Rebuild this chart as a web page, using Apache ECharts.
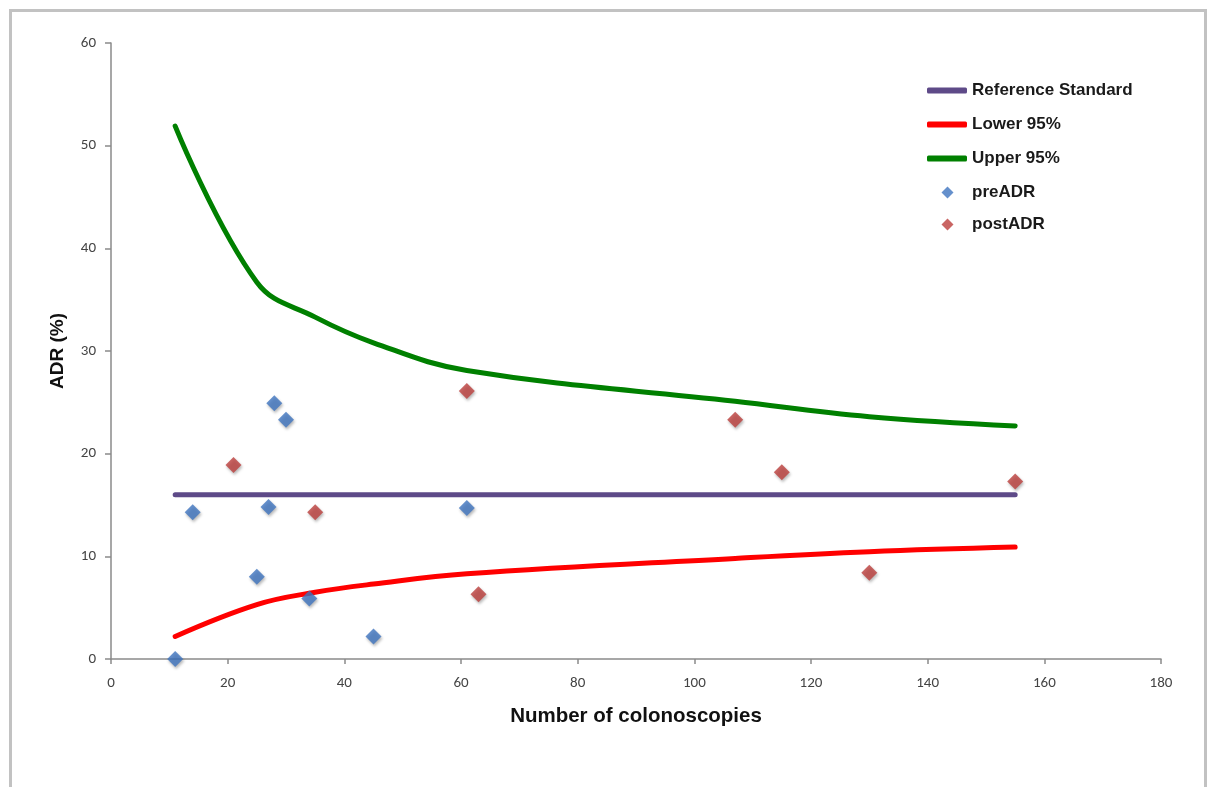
<!DOCTYPE html>
<html>
<head>
<meta charset="utf-8">
<script src="https://cdn.jsdelivr.net/npm/echarts@6/dist/echarts.min.js"></script>
<style>
html,body{margin:0;padding:0;background:#fff;}
#chart{width:1211px;height:787px;}
</style>
</head>
<body>
<div id="chart"></div>
<script>
// ---- data ----
var refX = [11, 155];
var refY = [16, 16];
var ciX = [11, 25, 35, 45, 61, 107, 130, 155];
var lowerY = [2.2, 5.3, 6.5, 7.3, 8.3, 9.8, 10.45, 10.9];
var upperY = [51.9, 36.7, 33.3, 30.8, 28.1, 25.1, 23.6, 22.7];
var preX = [11, 14, 25, 27, 28, 30, 34, 45, 61];
var preY = [0, 14.3, 8.0, 14.8, 24.9, 23.3, 5.9, 2.2, 14.7];
var postX = [21, 35, 61, 63, 107, 115, 130, 155];
var postY = [18.9, 14.3, 26.1, 6.3, 23.3, 18.2, 8.4, 17.3];
var xTicks = [0, 20, 40, 60, 80, 100, 120, 140, 160, 180];
var yTicks = [0, 10, 20, 30, 40, 50, 60];

function pairs(xs, ys) { return xs.map(function (x, i) { return [x, ys[i]]; }); }

var chart = echarts.init(document.getElementById('chart'), null, {renderer: 'canvas'});
var tickFont = {color: '#444', fontSize: 15, fontFamily: 'Carlito, "Liberation Sans", Arial, sans-serif'};
var legendFont = {color: '#1a1a1a', fontSize: 17, fontWeight: 'bold', fontFamily: '"Liberation Sans", Arial, sans-serif'};
var axisLine = {show: true, lineStyle: {color: '#8a8a8a', width: 1.5}};
var diamondShadow = {shadowBlur: 3, shadowOffsetX: 1, shadowOffsetY: 2, shadowColor: 'rgba(0,0,0,0.35)'};
var legendDiamond = 'path://M0,0 M39,12 M19.5,0 L25.5,6 L19.5,12 L13.5,6 Z';

chart.setOption({
  animation: false,
  backgroundColor: '#ffffff',
  graphic: [{
    type: 'rect', left: 8, top: 8, silent: true,
    shape: {width: 1195, height: 900},
    style: {fill: 'none', stroke: '#c2c2c2', lineWidth: 3}
  }],
  grid: {left: 111, right: 50, top: 43, bottom: 128, containLabel: false},
  legend: [{
    data: ['Reference Standard', 'Lower 95%', 'Upper 95%'],
    orient: 'vertical', left: 922, top: 77,
    itemWidth: 40, itemHeight: 6, itemGap: 17, icon: 'roundRect',
    textStyle: legendFont, selectedMode: false
  }, {
    data: [{name: 'preADR', icon: legendDiamond}, {name: 'postADR', icon: legendDiamond}],
    orient: 'vertical', left: 923, top: 179,
    itemWidth: 39, itemHeight: 12, itemGap: 15,
    textStyle: legendFont, selectedMode: false
  }],
  xAxis: {
    type: 'value', min: 0, max: 180, interval: 20,
    name: 'Number of colonoscopies', nameLocation: 'middle', nameGap: 47,
    nameTextStyle: {fontSize: 20.5, fontWeight: 'bold', color: '#111', fontFamily: '"Liberation Sans", Arial, sans-serif'},
    axisLine: axisLine,
    axisTick: {show: true, inside: false, length: 5, lineStyle: {color: '#8a8a8a', width: 1.5}},
    axisLabel: Object.assign({margin: 17, formatter: function (v) { return xTicks.indexOf(v) >= 0 ? String(v) : ''; }}, tickFont),
    splitLine: {show: false}
  },
  yAxis: {
    type: 'value', min: 0, max: 60, interval: 10,
    name: 'ADR (%)', nameLocation: 'middle', nameGap: 44, nameRotate: 90,
    nameTextStyle: {fontSize: 19, fontWeight: 'bold', color: '#111', fontFamily: '"Liberation Sans", Arial, sans-serif'},
    axisLine: axisLine,
    axisTick: {show: true, inside: false, length: 6, lineStyle: {color: '#8a8a8a', width: 1.5}},
    axisLabel: Object.assign({margin: 15, formatter: function (v) { return yTicks.indexOf(v) >= 0 ? String(v) : ''; }}, tickFont),
    splitLine: {show: false}
  },
  series: [{
    name: 'Reference Standard', type: 'line', data: pairs(refX, refY),
    showSymbol: false, color: '#5e4a88',
    lineStyle: {width: 5, color: '#5e4a88', cap: 'round'}, z: 2
  }, {
    name: 'Lower 95%', type: 'line', data: pairs(ciX, lowerY),
    showSymbol: false, smooth: 0.4, color: '#ff0000',
    lineStyle: {width: 5, color: '#ff0000', cap: 'round', join: 'round'}, z: 2
  }, {
    name: 'Upper 95%', type: 'line', data: pairs(ciX, upperY),
    showSymbol: false, smooth: 0.4, color: '#008000',
    lineStyle: {width: 5, color: '#008000', cap: 'round', join: 'round'}, z: 2
  }, {
    name: 'preADR', type: 'scatter', data: pairs(preX, preY),
    symbol: 'diamond', symbolSize: 16, color: '#3e74bf',
    itemStyle: Object.assign({color: '#3e74bf'}, diamondShadow), z: 3
  }, {
    name: 'postADR', type: 'scatter', data: pairs(postX, postY),
    symbol: 'diamond', symbolSize: 16, color: '#bc3f3c',
    itemStyle: Object.assign({color: '#bc3f3c'}, diamondShadow), z: 3
  }]
});
</script>
</body>
</html>
